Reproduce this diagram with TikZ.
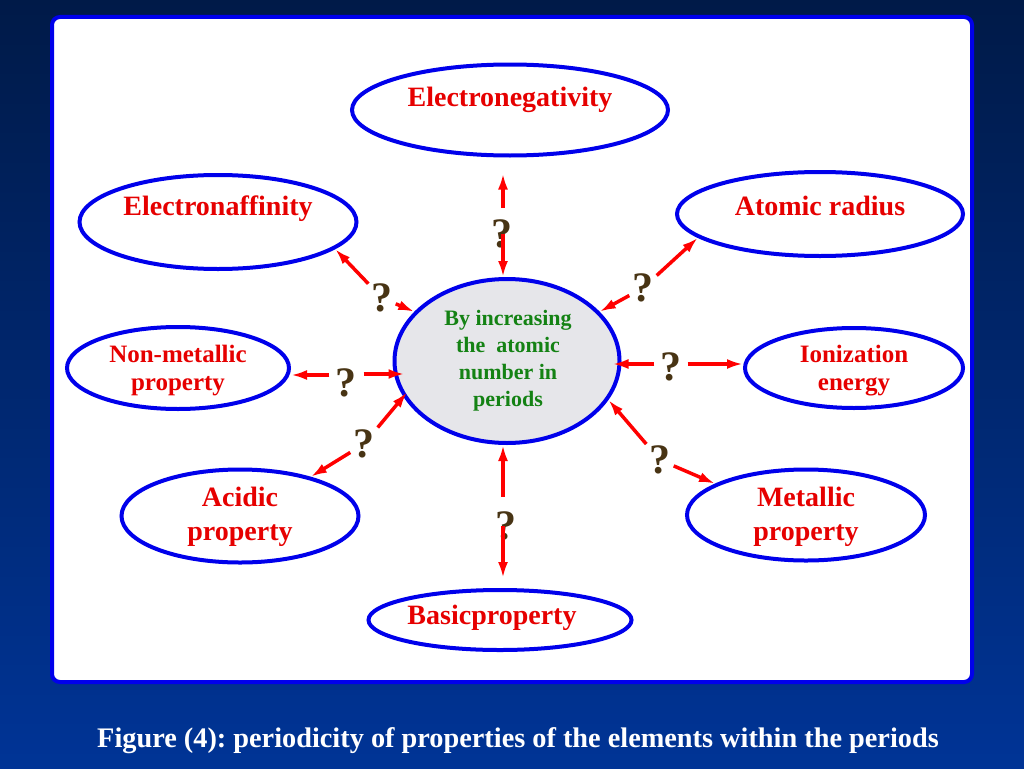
\documentclass[tikz,border=0pt]{standalone}
\usepackage{fontspec}
\setmainfont{Liberation Serif}
\usetikzlibrary{arrows.meta,positioning,calc,shapes.geometric}
\definecolor{bgtop}{RGB}{0,26,72}
\definecolor{bgbot}{RGB}{0,52,150}
\definecolor{ovalblue}{RGB}{0,0,235}
\definecolor{labred}{RGB}{230,0,0}
\definecolor{arrred}{RGB}{255,0,0}
\definecolor{coregreen}{RGB}{20,130,20}
\definecolor{qbrown}{RGB}{72,52,20}
\definecolor{coregray}{RGB}{230,230,234}

\begin{document}
\frenchspacing
\begin{tikzpicture}[x=1pt, y=-1pt,
  oval/.style={draw=ovalblue, ellipse, line width=4pt, fill=white,
               inner sep=0pt},
  biglab/.style={text=labred, font=\fontsize{28}{34}\selectfont\bfseries,
                 align=center, inner sep=0pt},
  smalllab/.style={text=labred, font=\fontsize{25}{28}\selectfont\bfseries,
                   align=center, inner sep=0pt},
  qmark/.style={text=qbrown, font=\fontsize{42}{44}\selectfont\bfseries,
                inner sep=3pt},
  arr/.style={draw=arrred, line width=3.5pt,
              -{Latex[length=16pt,width=10pt]}}
]
\useasboundingbox (0,0) rectangle (1024,768);
\shade[top color=bgtop, bottom color=bgbot] (0,0) rectangle (1024,768);

% panel
\draw[ovalblue, line width=4pt, fill=white, rounded corners=8pt]
  (52,17) rectangle (972,682);

% centre
\node[oval, fill=coregray, minimum width=225pt, minimum height=164pt]
  (core) at (507,361) {};
\node[text=coregreen, font=\fontsize{22}{27}\selectfont\bfseries,
      align=center, inner sep=0pt] (core-t) at (508,361)
  {By increasing\\the\ \ atomic\\number in\\periods};

% properties
\node[oval, minimum width=316pt, minimum height=91pt] (en) at (510,110) {};
\node[biglab] (en-t) at (510,100) {Electronegativity};

\node[oval, minimum width=277pt, minimum height=94pt] (ea) at (218,222) {};
\node[biglab] (ea-t) at (218,209) {Electronaffinity};

\node[oval, minimum width=286pt, minimum height=84pt] (ar) at (820,214) {};
\node[biglab] (ar-t) at (820,206) {Atomic radius};

\node[oval, minimum width=222pt, minimum height=82pt] (nm) at (178,368) {};
\node[smalllab] (nm-t) at (178,371) {Non-metallic\\property};

\node[oval, minimum width=218pt, minimum height=80pt] (ie) at (854,368) {};
\node[smalllab] (ie-t) at (854,371) {Ionization\\energy};

\node[oval, minimum width=237pt, minimum height=93pt] (ac) at (240,516) {};
\node[biglab] (ac-t) at (240,517) {Acidic\\property};

\node[oval, minimum width=238pt, minimum height=91pt] (mp) at (806,515) {};
\node[biglab] (mp-t) at (806,517) {Metallic\\property};

\node[oval, minimum width=263pt, minimum height=60pt] (bp) at (500,620) {};
\node[biglab] (bp-t) at (492,618) {Basicproperty};

% question marks
\node[qmark] (q1) at (502,234) {?};
\node[qmark] (q2) at (382,298) {?};
\node[qmark] (q3) at (643,288) {?};
\node[qmark] (q4) at (346,383) {?};
\node[qmark] (q5) at (671,367) {?};
\node[qmark] (q6) at (364,444) {?};
\node[qmark] (q7) at (660,460) {?};
\node[qmark] (q8) at (506,526) {?};

% arrows
\draw[arr, shorten <=9pt, shorten >=16pt] ([xshift=1pt]q1.north) -- ([xshift=1pt]q1.north |- en.south);
\draw[arr] ([xshift=1pt]q1.center) -- ([xshift=1pt]q1.center |- core.north);
\draw[arr] (q2) -- (ea.-13);
\draw[arr] (q2) -- (core.152);
\draw[arr] (q3) -- (ar.191);
\draw[arr] (q3) -- (core.28);
\draw[arr, shorten <=3pt] ([yshift=8pt]q4.west) -- ([yshift=8pt]q4.west -| nm.east);
\draw[arr, shorten <=4pt, shorten >=-12pt] ([yshift=9pt]q4.east) -- ([yshift=9pt]q4.east -| core.west);
\draw[arr, shorten <=3pt, shorten >=-9pt] ([yshift=3pt]q5.west) -- ([yshift=3pt]q5.west -| core.east);
\draw[arr, shorten <=3pt] ([yshift=3pt]q5.east) -- ([yshift=3pt]q5.east -| ie.west);
\draw[arr] (q6) -- (ac.29);
\draw[arr, shorten >=-6pt] (q6) -- (core.199);
\draw[arr] (q7) -- (core.-21.8);
\draw[arr] (q7) -- (mp.161.6);
\draw[arr, shorten <=12pt] ([xshift=-3pt]q8.north) -- ([xshift=-3pt]q8.north |- core.south);
\draw[arr, shorten >=10pt] ([xshift=-3pt]q8.center) -- ([xshift=-3pt]q8.center |- bp.north);

% caption
\node[text=white, font=\fontsize{28.3}{32}\selectfont\bfseries, inner sep=0pt]
  (cap) at (518,741)
  {Figure (4): periodicity of properties of the elements within the periods};
\end{tikzpicture}
\end{document}
